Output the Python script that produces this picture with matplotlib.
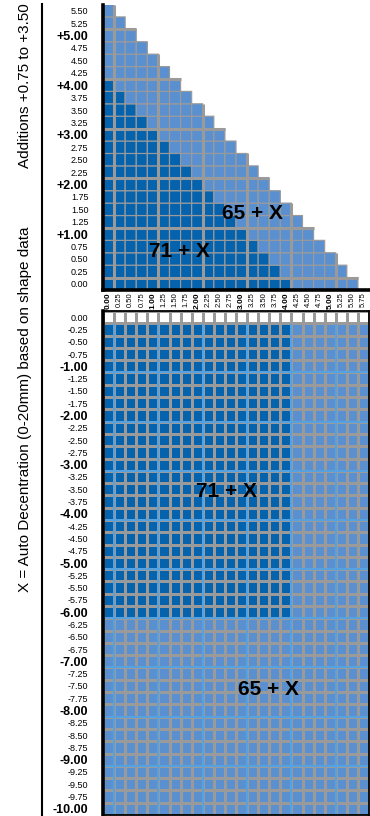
import numpy as np
import matplotlib
matplotlib.use('Agg')
import matplotlib.pyplot as plt
from matplotlib.colors import ListedColormap
from matplotlib.lines import Line2D

# decentration columns (shared by both grids)
x_values = [0.00, 0.25, 0.50, 0.75, 1.00, 1.25, 1.50, 1.75, 2.00, 2.25, 2.50, 2.75,
            3.00, 3.25, 3.50, 3.75, 4.00, 4.25, 4.50, 4.75, 5.00, 5.25, 5.50, 5.75]
# additions (top grid, bottom -> top)
add_values = [0.00, 0.25, 0.50, 0.75, 1.00, 1.25, 1.50, 1.75, 2.00, 2.25, 2.50, 2.75,
              3.00, 3.25, 3.50, 3.75, 4.00, 4.25, 4.50, 4.75, 5.00, 5.25, 5.50]
# bottom grid rows (top -> bottom)
dec_values = [0.00, -0.25, -0.50, -0.75, -1.00, -1.25, -1.50, -1.75, -2.00, -2.25,
              -2.50, -2.75, -3.00, -3.25, -3.50, -3.75, -4.00, -4.25, -4.50, -4.75,
              -5.00, -5.25, -5.50, -5.75, -6.00, -6.25, -6.50, -6.75, -7.00, -7.25,
              -7.50, -7.75, -8.00, -8.25, -8.50, -8.75, -9.00, -9.25, -9.50, -9.75,
              -10.00]

top_max_total = 5.50     # x + add allowed at all
top_dark_total = 4.00    # x + add for 71 mm
bot_dark_xmax = 4.00
bot_dark_decmin = -6.00

DARK = '#0562ad'
LIGHT = '#5b90d0'
GRID = '#9a9a9a'
MAJOR_BOT = '#55a3e2'
FONT = ['Liberation Sans', 'DejaVu Sans']

plt.rcParams['font.family'] = FONT

W, H = 370, 816
fig = plt.figure(figsize=(W / 100, H / 100), dpi=100)


def px_axes(l, t, r, b):
    return fig.add_axes([l / W, 1 - b / H, (r - l) / W, (b - t) / H])


ax_top = px_axes(103, 4.5, 369, 290)
ax_bot = px_axes(103, 311, 369, 815)

xs = np.array(x_values)
adds = np.array(add_values)
decs = np.array(dec_values)
nx, ny, nd = len(xs), len(adds), len(decs)
cmap = ListedColormap(['white', LIGHT, DARK])
eps = 1e-9

# ---- top grid (triangle)
total = adds[:, None] + xs[None, :]
top_cat = np.where(total <= top_dark_total + eps, 2.0, 1.0)
top_cat = np.ma.masked_where(total > top_max_total + eps, top_cat)
ax_top.pcolor(np.arange(nx + 1), np.arange(ny + 1), top_cat, cmap=cmap,
              vmin=-0.5, vmax=2.5, edgecolors=GRID, linewidth=0.85)

col_height = (total <= top_max_total + eps).sum(axis=0)
row_width = (total <= top_max_total + eps).sum(axis=1)
for c, v in enumerate(x_values):
    if v == int(v) and col_height[c] > 0:
        ax_top.plot([c + 1, c + 1], [0, col_height[c]], color=GRID, lw=2.2,
                    solid_capstyle='butt', zorder=3)
for r, v in enumerate(add_values):
    if v == int(v):
        ax_top.plot([0, row_width[r]], [r + 1, r + 1], color=GRID, lw=2.2,
                    solid_capstyle='butt', zorder=3)

ax_top.set_xlim(0, nx)
ax_top.set_ylim(0, ny)
for s in ['top', 'right']:
    ax_top.spines[s].set_visible(False)
ax_top.spines['left'].set_linewidth(2.6)
ax_top.spines['bottom'].set_linewidth(2.6)
ax_top.spines['left'].set_zorder(5)
ax_top.spines['bottom'].set_zorder(5)

ax_top.set_yticks(np.arange(ny) + 0.5)
ax_top.set_yticklabels([('+%.2f' % v) if (v == int(v) and v > 0) else '%.2f' % v
                        for v in add_values])
for lab, v in zip(ax_top.get_yticklabels(), add_values):
    if v == int(v) and v > 0:
        lab.set_fontsize(9)
        lab.set_fontweight('bold')
    else:
        lab.set_fontsize(6.5)
ax_top.tick_params(axis='y', length=0, pad=10.5)

ax_top.set_xticks(np.arange(nx) + 0.5)
ax_top.set_xticklabels(['%.2f' % v for v in x_values], rotation=90, va='top')
for lab, v in zip(ax_top.get_xticklabels(), x_values):
    if v == int(v):
        lab.set_fontsize(6)
        lab.set_fontweight('bold')
    else:
        lab.set_fontsize(5.5)
ax_top.tick_params(axis='x', length=0, pad=1.5)

ax_top.text(13.5, 6.2, '65 + X', ha='center', va='center', fontsize=15,
            fontweight='bold', zorder=6)
ax_top.text(6.9, 3.07, '71 + X', ha='center', va='center', fontsize=15,
            fontweight='bold', zorder=6)

# ---- bottom grid
dark = (xs[None, :] <= bot_dark_xmax + eps) & (decs[:, None] >= bot_dark_decmin - eps)
bot_cat = np.where(dark, 2.0, 1.0)
bot_cat[decs == 0.0, :] = 0.0
ax_bot.pcolormesh(np.arange(nx + 1), np.arange(nd + 1), bot_cat, cmap=cmap,
                  vmin=-0.5, vmax=2.5, edgecolors=GRID, linewidth=0.75)
for c, v in enumerate(x_values):
    if v == int(v):
        ax_bot.plot([c + 1, c + 1], [1, nd], color=MAJOR_BOT, lw=1.4,
                    solid_capstyle='butt', zorder=3)
        ax_bot.plot([c + 1, c + 1], [0, 1], color=GRID, lw=1.8,
                    solid_capstyle='butt', zorder=3)
for i, v in enumerate(dec_values):
    if v == int(v) and 0 < i < nd - 1:
        ax_bot.plot([0, nx], [i + 1, i + 1], color=MAJOR_BOT, lw=1.4,
                    solid_capstyle='butt', zorder=3)
ax_bot.plot([0, nx], [1, 1], color=GRID, lw=1.3, zorder=3)

ax_bot.set_xlim(0, nx)
ax_bot.set_ylim(nd, 0)
for s in ['top', 'right', 'bottom']:
    ax_bot.spines[s].set_linewidth(1.3)
    ax_bot.spines[s].set_zorder(5)
ax_bot.spines['left'].set_linewidth(2.6)
ax_bot.spines['left'].set_zorder(5)
ax_bot.set_xticks([])
ax_bot.set_yticks(np.arange(nd) + 0.5)
ax_bot.set_yticklabels(['%.2f' % v for v in dec_values])
for lab, v in zip(ax_bot.get_yticklabels(), dec_values):
    if v == int(v) and v < 0:
        lab.set_fontsize(9)
        lab.set_fontweight('bold')
    else:
        lab.set_fontsize(6.5)
ax_bot.tick_params(axis='y', length=0, pad=10.5)

ax_bot.text(11.1, 14.7, '71 + X', ha='center', va='center', fontsize=15,
            fontweight='bold', zorder=6)
ax_bot.text(14.9, 30.8, '65 + X', ha='center', va='center', fontsize=15,
            fontweight='bold', zorder=6)

# ---- side labels and separator
fig.add_artist(Line2D([41.5 / W, 41.5 / W], [0, 1 - 4 / H], color='black', lw=1.5))
fig.text(25 / W, 1 - 3 / H, 'Additions +0.75 to +3.50', rotation=90,
         ha='center', va='top', fontsize=11)
fig.text(25 / W, 1 - 227 / H, 'X = Auto Decentration (0-20mm) based on shape data',
         rotation=90, ha='center', va='top', fontsize=11)

fig.savefig('out.png', dpi=100)
